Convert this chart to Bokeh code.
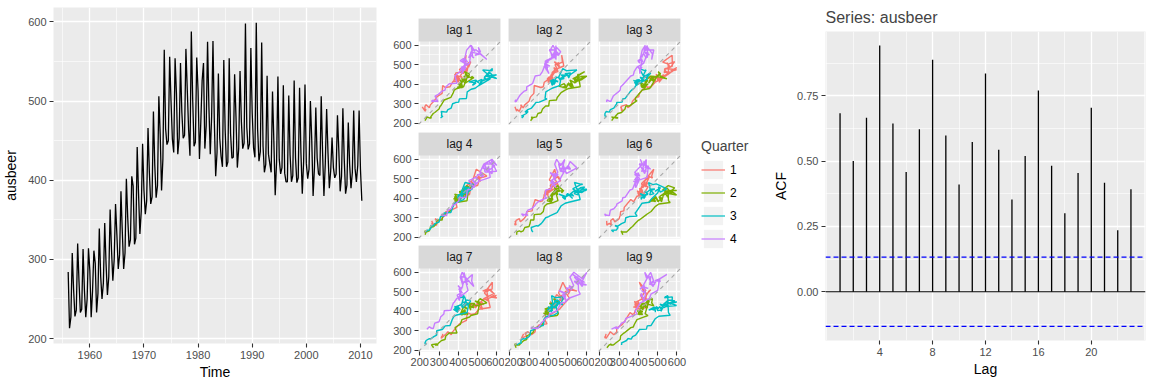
from bokeh.plotting import figure
from bokeh.layouts import row, column
from bokeh.models import (Range1d, FixedTicker, Legend, LegendItem, Slope, Span, Label,
                          BoxAnnotation, ColumnDataSource, PrintfTickFormatter)
from bokeh.embed import file_html
from bokeh.resources import INLINE
from bokeh.core.properties import value

FONT = "Liberation Sans"
PANEL_BG = "#EBEBEB"
STRIP_BG = "#D9D9D9"

# ---------------- data ----------------
start_year = 1956
frequency = 4
ausbeer = [
    284, 213, 227, 308, 262, 228, 236, 320, 272, 233, 237, 313, 261, 227, 250, 314,
    286, 227, 260, 311, 295, 233, 257, 339, 279, 250, 270, 346, 294, 255, 278, 363,
    313, 273, 300, 370, 331, 288, 306, 386, 335, 288, 308, 402, 353, 316, 325, 405,
    393, 319, 327, 442, 383, 332, 361, 446, 387, 357, 374, 466, 410, 370, 379, 487,
    419, 378, 393, 506, 458, 387, 427, 565, 465, 445, 450, 556, 500, 452, 435, 554,
    510, 433, 453, 548, 486, 453, 457, 566, 515, 464, 431, 588, 503, 443, 448, 555,
    513, 427, 473, 526, 548, 440, 469, 575, 493, 433, 480, 576, 475, 405, 435, 535,
    453, 430, 417, 552, 464, 417, 423, 554, 459, 428, 429, 534, 481, 416, 440, 538,
    474, 440, 447, 598, 467, 439, 446, 567, 485, 441, 429, 599, 464, 424, 436, 574,
    443, 410, 420, 532, 433, 421, 410, 512, 449, 381, 423, 531, 426, 408, 416, 520,
    409, 398, 398, 507, 432, 398, 406, 526, 428, 397, 403, 517, 435, 383, 424, 521,
    421, 402, 414, 500, 451, 380, 416, 492, 428, 408, 406, 506, 435, 380, 421, 490,
    435, 390, 412, 454, 416, 403, 408, 482, 438, 386, 405, 491, 427, 383, 394, 473,
    420, 390, 410, 488, 415, 398, 419, 488, 414, 374,
]
quarter_labels = ["1", "2", "3", "4"]
quarter_colors = ["#F8766D", "#7CAE00", "#00BFC4", "#C77CFF"]
lag_numbers = [1, 2, 3, 4, 5, 6, 7, 8, 9]

acf_lags = list(range(1, 24))
acf_values = [0.683, 0.500, 0.666, 0.942, 0.644, 0.458, 0.622, 0.888, 0.598, 0.410,
              0.573, 0.835, 0.543, 0.353, 0.519, 0.770, 0.482, 0.300, 0.454, 0.704,
              0.417, 0.235, 0.392]
acf_ci = 0.1327

ts_xticks = [1960, 1970, 1980, 1990, 2000, 2010]
ts_xminor = [1955, 1965, 1975, 1985, 1995, 2005]
val_ticks = [200, 300, 400, 500, 600]
val_minor = [250, 350, 450, 550]
acf_xticks = [4, 8, 12, 16, 20]
acf_xminor = [0, 2, 6, 10, 14, 18, 22, 24]
acf_yticks = [0.0, 0.25, 0.5, 0.75]
acf_yminor = [-0.125, 0.125, 0.375, 0.625, 0.875]

# derived
n = len(ausbeer)
ts_time = [start_year + i / frequency for i in range(n)]
vmin, vmax = min(ausbeer), max(ausbeer)
vpad = 0.05 * (vmax - vmin)
VAL_RANGE = (vmin - vpad, vmax + vpad)
tpad = 0.05 * (ts_time[-1] - ts_time[0])
acf_lo = min(-acf_ci, 0)
acf_hi = max(acf_values)
apad = 0.05 * (acf_hi - acf_lo)
lpad = 0.05 * (acf_lags[-1] - acf_lags[0])

H = 384


# ---------------- helpers ----------------
def base_fig(**kw):
    p = figure(toolbar_location=None, output_backend="svg", **kw)
    p.background_fill_color = PANEL_BG
    p.border_fill_color = "white"
    p.outline_line_color = None
    return p


def set_grid(p, xt, xm, yt, ym):
    for g, t, m in ((p.xgrid, xt, xm), (p.ygrid, yt, ym)):
        g.ticker = FixedTicker(ticks=t, minor_ticks=m)
        g.grid_line_color = "white"
        g.grid_line_width = 1.3
        g.minor_grid_line_color = "white"
        g.minor_grid_line_width = 0.6


def style_axis(ax, ticks, label_standoff=5, tick_standoff=3):
    ax.ticker = FixedTicker(ticks=ticks)
    ax.axis_line_color = None
    ax.major_tick_line_color = "#333333"
    ax.major_tick_line_width = 1.1
    ax.major_tick_out = 4
    ax.major_tick_in = 0
    ax.minor_tick_line_color = None
    ax.major_label_text_font = FONT
    ax.major_label_text_font_size = "11px"
    ax.major_label_text_color = "#4D4D4D"
    ax.major_label_standoff = tick_standoff
    ax.axis_label_text_font = FONT
    ax.axis_label_text_font_size = "14px"
    ax.axis_label_text_font_style = "normal"
    ax.axis_label_text_color = "black"
    ax.axis_label_standoff = label_standoff


# ---------------- time series ----------------
ts = base_fig(width=380, height=H,
              min_border_left=52, min_border_right=4, min_border_top=7, min_border_bottom=41,
              x_range=Range1d(ts_time[0] - tpad, ts_time[-1] + tpad),
              y_range=Range1d(*VAL_RANGE),
              x_axis_label="Time", y_axis_label="ausbeer")
set_grid(ts, ts_xticks, ts_xminor, val_ticks, val_minor)
style_axis(ts.xaxis[0], ts_xticks, 2)
style_axis(ts.yaxis[0], val_ticks, 6)
ts.line(ts_time, ausbeer, line_color="black", line_width=1.3)

# ---------------- lag plots ----------------
FW, PH, STRIP_H = 82, 83, 23
col_left = [38, 4, 4]
col_right = [4, 4, 10]
row_top = [18, 0, 0]
row_bottom = [8, 7, 33]
units_per_px = (VAL_RANGE[1] - VAL_RANGE[0]) / PH
strip_top_val = VAL_RANGE[1] + STRIP_H * units_per_px
strip_mid_val = VAL_RANGE[1] + STRIP_H * units_per_px / 2
x_mid_val = (VAL_RANGE[0] + VAL_RANGE[1]) / 2

rows = []
for r in range(3):
    panel_row = []
    for c in range(3):
        k = lag_numbers[r * 3 + c]
        p = base_fig(width=col_left[c] + FW + col_right[c],
                     height=row_top[r] + STRIP_H + PH + row_bottom[r],
                     min_border_left=col_left[c], min_border_right=col_right[c],
                     min_border_top=row_top[r], min_border_bottom=row_bottom[r],
                     x_range=Range1d(*VAL_RANGE),
                     y_range=Range1d(VAL_RANGE[0], strip_top_val),
                     x_axis_location=("below" if r == 2 else None),
                     y_axis_location=("left" if c == 0 else None))
        set_grid(p, val_ticks, val_minor, val_ticks, val_minor)
        if r == 2:
            style_axis(p.xaxis[0], val_ticks, tick_standoff=2)
        if c == 0:
            style_axis(p.yaxis[0], val_ticks)
        p.add_layout(Slope(gradient=1, y_intercept=0, line_color="#A8A8A8",
                           line_dash="4 4", line_width=1.1, level="glyph"))
        for qi, colr in enumerate(quarter_colors):
            idx = list(range(qi, n - k, frequency))
            xs = [ausbeer[t + k] for t in idx]
            ys = [ausbeer[t] for t in idx]
            p.line(xs, ys, line_color=colr, line_width=1.4)
        p.add_layout(BoxAnnotation(bottom=VAL_RANGE[1], fill_color=STRIP_BG, fill_alpha=1,
                                   line_color=None))
        p.add_layout(Label(x=x_mid_val, y=strip_mid_val, text="lag %d" % k,
                           text_align="center", text_baseline="middle",
                           text_font=FONT, text_font_size="12px", text_color="#1A1A1A"))
        panel_row.append(p)
    rows.append(row(*panel_row))
lag_col = column(*rows)

# ---------------- legend ----------------
leg = figure(toolbar_location=None, output_backend="svg", width=80, height=H,
             min_border_left=0, min_border_right=0, min_border_top=0, min_border_bottom=0,
             x_range=Range1d(0, 1), y_range=Range1d(0, 1),
             x_axis_location=None, y_axis_location=None)
leg.outline_line_color = None
leg.background_fill_color = "white"
leg.border_fill_color = "white"
leg.grid.visible = False
items = []
for lab, colr in zip(quarter_labels, quarter_colors):
    src = ColumnDataSource(dict(x=[float("nan")], y=[float("nan")]))
    rb = leg.rect(x="x", y="y", width=0.1, height=0.1, source=src,
                  fill_color="#F2F2F2", line_color=None)
    rl = leg.line(x="x", y="y", source=src, line_color=colr, line_width=1.2)
    items.append(LegendItem(label=lab, renderers=[rb, rl]))
legend = Legend(items=items, title="Quarter", location=(11, 134),
                border_line_color=None, background_fill_alpha=0,
                padding=0, margin=0, spacing=0,
                glyph_width=24, glyph_height=23, label_height=23, label_standoff=5,
                label_text_font=FONT, label_text_font_size="12px", label_text_color="black",
                title_text_font=FONT, title_text_font_size="14px",
                title_text_font_style="normal", title_standoff=4)
leg.add_layout(legend)

# ---------------- ACF ----------------
acf = base_fig(width=382, height=H,
               min_border_left=53, min_border_right=7, min_border_top=29, min_border_bottom=44,
               x_range=Range1d(acf_lags[0] - lpad, acf_lags[-1] + lpad),
               y_range=Range1d(acf_lo - apad, acf_hi + apad),
               x_axis_label="Lag", y_axis_label="ACF", title="Series: ausbeer")
acf.title.text_font = FONT
acf.title.text_font_size = "16px"
acf.title.text_font_style = "normal"
acf.title.align = "left"
acf.title.offset = 0
acf.title.standoff = 12
set_grid(acf, acf_xticks, acf_xminor, acf_yticks, acf_yminor)
style_axis(acf.xaxis[0], acf_xticks, 2)
style_axis(acf.yaxis[0], acf_yticks, 5)
acf.yaxis[0].formatter = PrintfTickFormatter(format="%.2f")
acf.add_layout(Span(location=0, dimension="width", line_color="black", line_width=1.2))
acf.segment(x0=acf_lags, y0=[0] * len(acf_lags), x1=acf_lags, y1=acf_values,
            line_color="black", line_width=1.3)
for ci in (acf_ci, -acf_ci):
    acf.add_layout(Span(location=ci, dimension="width", line_color="#0000FF",
                        line_width=1.3, line_dash="5 3"))

layout = row(column(ts), lag_col, column(leg), column(acf))
open("out.html", "w").write(file_html(layout, INLINE))
